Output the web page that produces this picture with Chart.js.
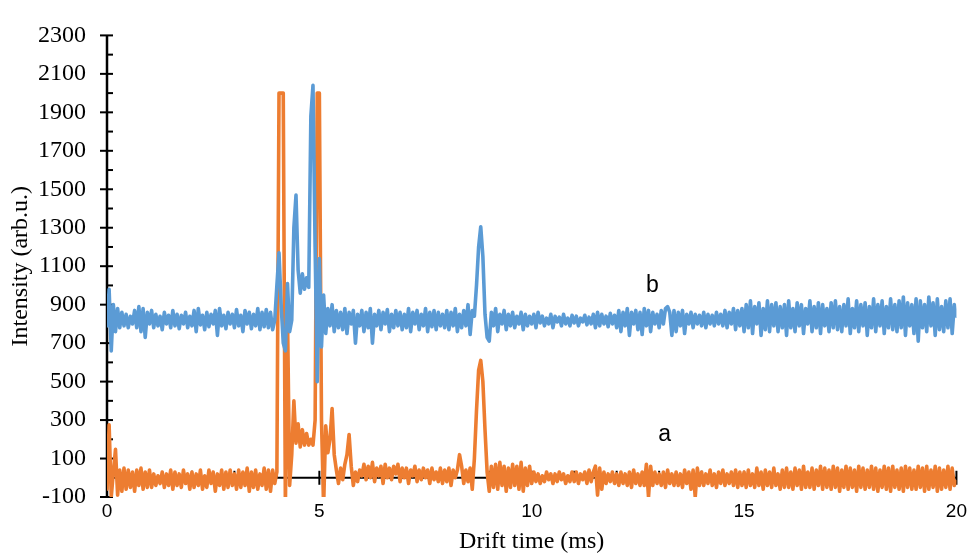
<!DOCTYPE html>
<html>
<head>
<meta charset="utf-8">
<script src="https://cdn.jsdelivr.net/npm/chart.js@4"></script>
<style>
  html, body { margin: 0; padding: 0; background: #fff; }
  #wrap { width: 970px; height: 556px; position: relative; }
</style>
</head>
<body>
<div id="wrap"><canvas id="c" width="970" height="556"></canvas></div>
<script>
// Drift-time spectra sampled every 0.05 ms from 0 to 20 ms
const DT = 0.05;

// Spectrum b (blue), one row per millisecond
const SERIES_B = [
  790, 980, 660, 900, 760, 880, 780, 860, 790, 850, 780, 840, 800, 870, 780, 890, 760, 880, 730, 860,
  800, 870, 780, 850, 790, 840, 770, 860, 800, 845, 780, 870, 790, 850, 775, 845, 800, 860, 780, 840,
  790, 870, 760, 880, 795, 845, 770, 860, 785, 850, 800, 870, 740, 880, 790, 845, 775, 860, 800, 850,
  780, 875, 790, 845, 760, 870, 800, 860, 775, 850, 790, 880, 770, 860, 785, 875, 780, 860, 770, 820,
  1000, 1170, 900, 700, 660, 1010, 760, 820, 1300, 1470, 1080, 960, 1060, 980, 1040, 990, 1880, 2040, 1200, 500,
  1140, 680, 950, 750, 880, 790, 900, 760, 870, 780, 860, 770, 880, 750, 860, 800, 870, 700, 850, 790,
  870, 760, 860, 780, 880, 700, 850, 790, 870, 770, 860, 800, 875, 760, 850, 780, 870, 790, 860, 770,
  850, 780, 880, 760, 860, 800, 870, 770, 850, 790, 880, 760, 860, 785, 870, 770, 860, 790, 850, 780,
  870, 770, 860, 790, 880, 760, 850, 780, 870, 790, 900, 745, 870, 840, 1000, 1200, 1305, 1150, 850, 730,
  710, 860, 790, 880, 760, 850, 800, 870, 770, 850, 790, 860, 780, 840, 800, 860, 770, 850, 790, 840,
  800, 850, 780, 860, 805, 840, 790, 830, 800, 850, 780, 840, 810, 835, 790, 850, 800, 830, 790, 845,
  805, 840, 790, 830, 810, 845, 795, 835, 800, 850, 780, 860, 790, 850, 800, 840, 785, 855, 800, 845,
  780, 870, 760, 860, 790, 880, 740, 860, 800, 870, 770, 860, 745, 880, 790, 870, 760, 860, 800, 850,
  780, 870, 800, 880, 890, 860, 740, 870, 760, 860, 790, 870, 750, 850, 800, 860, 780, 850, 800, 845,
  790, 860, 780, 850, 800, 845, 790, 860, 800, 850, 790, 870, 780, 860, 800, 880, 770, 870, 790, 880,
  760, 900, 780, 920, 750, 890, 800, 910, 740, 880, 770, 920, 760, 900, 790, 910, 760, 890, 780, 900,
  740, 920, 780, 880, 760, 910, 790, 900, 750, 880, 800, 920, 760, 890, 780, 910, 750, 900, 790, 880,
  760, 910, 780, 920, 770, 890, 760, 900, 790, 930, 750, 880, 780, 920, 760, 900, 790, 910, 740, 890,
  780, 930, 760, 900, 790, 920, 750, 890, 780, 930, 770, 900, 760, 920, 780, 940, 740, 910, 790, 900,
  750, 930, 710, 920, 780, 900, 760, 940, 790, 910, 740, 930, 770, 890, 760, 920, 780, 930, 750, 900,
  840
];

// Spectrum a (orange), one row per millisecond; the two main peaks saturate at 2000
const SERIES_A = [
  -60, 275, -100, 30, 148, -90, 40, -70, 50, -60, 40, -50, 30, -70, 40, -40, 50, -60, 30, -50,
  40, -50, 20, -40, 10, -30, 30, -50, 20, -40, 40, -60, 30, -40, 20, -50, 40, -30, 20, -60,
  30, -50, 20, -40, 40, -60, 10, -50, 40, -30, 30, -70, 20, -40, 40, -60, 30, -50, 40, -40,
  20, -60, 40, -50, 30, -40, 50, -70, 30, -50, 40, -60, 20, -40, 50, -60, 40, -70, 40, -30,
  30, 2000, 2000, 2000, -150, 850, -40, 120, 400, 180, 280, 160, 250, 170, 230, 170, 200, 170, 300, 2000,
  2000, 300, -150, 270, 130, 200, 360, 120, 40, -30, 50, -10, 70, 120, 225, 60, -40, 30, -20, 40,
  10, 70, -10, 60, 0, 80, -20, 50, 10, 60, -30, 70, 0, 50, -10, 60, 20, 70, -20, 50,
  0, 50, -30, 40, 10, 60, -20, 40, -10, 50, 0, 40, -30, 50, -10, 30, -20, 50, -30, 40,
  -20, 50, -40, 40, 0, 40, 120, 60, -30, 40, -20, 50, -60, 100, 350, 560, 610, 500, 250, 30,
  -70, 60, -50, 70, -60, 80, -40, 60, -70, 50, -50, 70, -40, 60, -60, 80, -70, 50, -40, 60,
  -30, 30, -20, 20, -30, 10, -20, 30, -10, 20, -30, 20, -20, 30, -10, 20, -30, 10, -20, 30,
  -20, 30, -30, 20, -10, 30, -30, 40, -20, 30, 60, -90, 50, -60, 30, -30, 20, -20, 30, -30,
  20, -40, 30, -30, 20, -40, 30, -50, 40, -30, 20, -40, 30, -40, 70, -100, 60, -40, 30, -30,
  20, -40, 30, -50, 40, -30, 20, -40, 30, -40, 20, -50, 40, -30, 30, -60, 40, -100, 50, -40,
  30, -40, 20, -30, 40, -40, 20, -50, 30, -30, 40, -40, 20, -30, 30, -40, 40, -50, 30, -40,
  30, -50, 40, -40, 20, -50, 50, -40, 30, -60, 40, -40, 30, -50, 50, -40, 20, -60, 40, -50,
  50, -50, 30, -60, 50, -40, 40, -60, 60, -50, 30, -50, 50, -60, 40, -40, 60, -60, 50, -50,
  40, -60, 60, -50, 50, -70, 40, -50, 60, -60, 50, -50, 40, -70, 60, -50, 50, -60, 40, -50,
  60, -60, 50, -70, 40, -50, 60, -60, 50, -70, 60, -50, 40, -60, 50, -70, 60, -50, 50, -60,
  40, -60, 60, -50, 50, -70, 60, -60, 40, -50, 60, -70, 50, -60, 40, -50, 60, -60, 50, -40,
  -20
];

// Axis ticks
const X_TICKS = [0, 5, 10, 15, 20];
const Y_TICKS = [-100, 100, 300, 500, 700, 900, 1100, 1300, 1500, 1700, 1900, 2100, 2300];

// Curve labels and their baseline anchor (ms, intensity)
const CURVE_LABELS = ['a', 'b'];
const CURVE_LABEL_X = [13.13, 12.84];
const CURVE_LABEL_Y = [189, 968];

const toPoints = arr => arr.map((v, i) => ({ x: +(i * DT).toFixed(2), y: v }));

const SERIF = "'Liberation Serif', 'Times New Roman', serif";
const SANS = "'Liberation Sans', Arial, sans-serif";

// Axis lines in the Excel style: y axis at x = 0, x axis crossing at intensity 0
const axisLines = {
  id: 'axisLines',
  beforeDatasetsDraw(chart) {
    const { ctx, scales: { x, y } } = chart;
    const x0 = x.getPixelForValue(0);
    const y0 = y.getPixelForValue(0);
    const seg = (ax, ay, bx, by) => { ctx.beginPath(); ctx.moveTo(ax, ay); ctx.lineTo(bx, by); ctx.stroke(); };
    ctx.save();
    ctx.strokeStyle = '#000';
    ctx.lineWidth = 2.5;
    seg(x0, y.getPixelForValue(Y_TICKS[Y_TICKS.length - 1]), x0, y.getPixelForValue(Y_TICKS[0]));
    ctx.lineWidth = 2;
    Y_TICKS.forEach((v, i) => {
      const p = y.getPixelForValue(v);
      seg(x0 - 7, p, x0 + 6, p);
      if (i < Y_TICKS.length - 1) {
        const m = y.getPixelForValue((v + Y_TICKS[i + 1]) / 2);
        seg(x0, m, x0 + 6, m);
      }
    });
    seg(x0, y0, x.getPixelForValue(X_TICKS[X_TICKS.length - 1]), y0);
    for (let t = X_TICKS[0]; t <= X_TICKS[X_TICKS.length - 1]; t++) {
      const p = x.getPixelForValue(t);
      if (X_TICKS.includes(t)) seg(p, y0 - 7, p, y0 + 7);
      else seg(p, y0 - 7, p, y0);
    }
    ctx.restore();
  }
};

const curveLabels = {
  id: 'curveLabels',
  afterDatasetsDraw(chart) {
    const { ctx, scales: { x, y } } = chart;
    ctx.save();
    ctx.fillStyle = '#000';
    ctx.font = '23px ' + SANS;
    ctx.textAlign = 'center';
    ctx.textBaseline = 'alphabetic';
    CURVE_LABELS.forEach((t, i) => {
      ctx.fillText(t, x.getPixelForValue(CURVE_LABEL_X[i]), y.getPixelForValue(CURVE_LABEL_Y[i]));
    });
    ctx.restore();
  }
};

const lineStyle = { borderWidth: 3.6, pointRadius: 0, tension: 0, fill: false,
                    borderJoinStyle: 'round', borderCapStyle: 'round' };

new Chart(document.getElementById('c'), {
  type: 'line',
  data: {
    datasets: [
      Object.assign({ label: 'b', data: toPoints(SERIES_B), borderColor: '#5B9BD5' }, lineStyle),
      Object.assign({ label: 'a', data: toPoints(SERIES_A), borderColor: '#ED7D31' }, lineStyle)
    ]
  },
  options: {
    responsive: false,
    animation: false,
    events: [],
    layout: { padding: { top: 24, right: 12, left: 0, bottom: 0 } },
    plugins: { legend: { display: false }, tooltip: { enabled: false } },
    scales: {
      x: {
        type: 'linear', min: 0, max: 20,
        afterBuildTicks: s => { s.ticks = X_TICKS.map(v => ({ value: v })); },
        afterFit: s => { s.height = 59; },
        grid: { display: false, drawTicks: false },
        border: { display: false },
        ticks: { color: '#000', font: { family: SANS, size: 19 }, padding: 3, maxRotation: 0,
                 callback: v => String(v) },
        title: { display: true, text: 'Drift time (ms)', color: '#000',
                 font: { family: SERIF, size: 24 }, padding: { top: 4, bottom: 0 } }
      },
      y: {
        type: 'linear', min: -100, max: 2300,
        afterBuildTicks: s => { s.ticks = Y_TICKS.map(v => ({ value: v })); },
        afterFit: s => { s.width = 107; },
        grid: { display: false, drawTicks: false },
        border: { display: false },
        ticks: { color: '#000', font: { family: SERIF, size: 24 }, padding: 21,
                 callback: v => String(v) },
        title: { display: true, text: 'Intensity (arb.u.)', color: '#000',
                 font: { family: SERIF, size: 24 }, padding: { top: 6, bottom: 0 } }
      }
    }
  },
  plugins: [axisLines, curveLabels]
});
</script>
</body>
</html>
